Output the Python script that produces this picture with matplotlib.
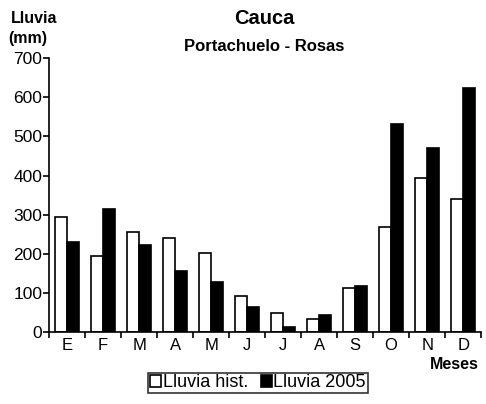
import matplotlib
matplotlib.use("Agg")
import matplotlib.pyplot as plt
import numpy as np

months = ["E", "F", "M", "A", "M", "J", "J", "A", "S", "O", "N", "D"]
lluvia_hist = [295, 194, 256, 240, 203, 92, 48, 33, 112, 268, 395, 339]
lluvia_2005 = [231, 315, 222, 156, 127, 63, 14, 44, 118, 531, 470, 623]
yticks = [0, 100, 200, 300, 400, 500, 600, 700]

plt.rcParams['font.family'] = ['Liberation Sans', 'DejaVu Sans']

fig = plt.figure(figsize=(4.86, 4.04), dpi=100)
ax = fig.add_axes([0.101, 0.178, 0.889, 0.678])

x = np.arange(len(months))
w = 0.33
ax.bar(x - w/2, lluvia_hist, width=w, color="white", edgecolor="black", linewidth=1.2, label="Lluvia hist.")
ax.bar(x + w/2, lluvia_2005, width=w, color="black", edgecolor="black", linewidth=1.2, label="Lluvia 2005")

ax.set_xlim(-0.5, len(months) - 0.5)
ax.set_ylim(0, 700)
ax.set_yticks(yticks)
ax.set_yticklabels([str(v) for v in yticks], fontsize=12.5)
ax.set_xticks(x)
ax.set_xticklabels(months, fontsize=12)
ax.tick_params(axis='x', length=0, pad=4)
ax.set_xticks(np.arange(-0.5, len(months) + 0.5, 1), minor=True)
ax.tick_params(axis='x', which='minor', length=4, width=1.2, direction='out')
ax.tick_params(axis='y', length=4, width=1.2, direction='out', pad=1)
for s in ['top', 'right']:
    ax.spines[s].set_visible(False)
for s in ['left', 'bottom']:
    ax.spines[s].set_linewidth(1.2)

fig.text(0.543, 0.955, "Cauca", ha='center', va='center', fontsize=14.5, fontweight='bold')
fig.text(0.543, 0.886, "Portachuelo - Rosas", ha='center', va='center', fontsize=12, fontweight='bold')
fig.text(0.022, 0.955, "Lluvia", ha='left', va='center', fontsize=11.5, fontweight='bold')
fig.text(0.018, 0.905, "(mm)", ha='left', va='center', fontsize=11.5, fontweight='bold')
fig.text(0.985, 0.098, "Meses", ha='right', va='center', fontsize=11.5, fontweight='bold')

leg = fig.legend(loc='center', bbox_to_anchor=(0.531, 0.052), ncol=2, fontsize=13,
                 handlelength=0.6, handleheight=0.6, handletextpad=0.1, columnspacing=0.7,
                 frameon=True, fancybox=False, edgecolor='black', borderpad=0.1,
                 borderaxespad=0)
leg.get_frame().set_linewidth(1.2)

fig.savefig("out.png", dpi=100)
